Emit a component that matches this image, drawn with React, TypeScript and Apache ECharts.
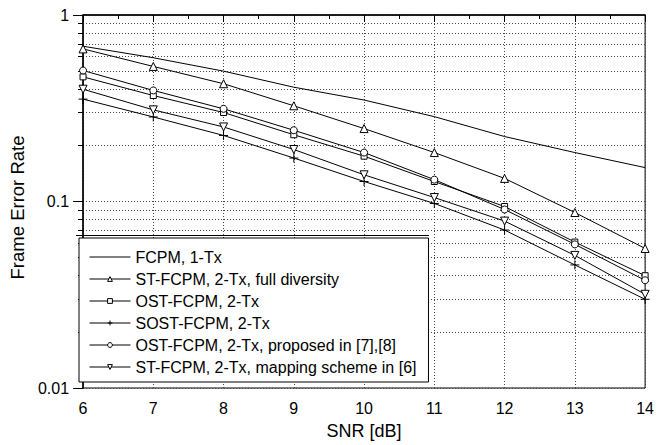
import React, { useEffect, useRef } from 'react';
import * as echarts from 'echarts';

const snr = [6, 7, 8, 9, 10, 11, 12, 13, 14];
const fcpm1Tx = [0.68, 0.59, 0.5, 0.41, 0.35, 0.285, 0.223, 0.183, 0.152];
const stFull = [0.658, 0.53, 0.428, 0.326, 0.246, 0.183, 0.133, 0.0873, 0.056];
const ost = [0.466, 0.37, 0.3, 0.228, 0.175, 0.128, 0.094, 0.0606, 0.04];
const sost = [0.354, 0.284, 0.226, 0.171, 0.128, 0.0976, 0.0703, 0.0457, 0.0299];
const ostProposed = [0.504, 0.394, 0.314, 0.241, 0.183, 0.131, 0.0906, 0.0589, 0.0378];
const stMapping = [0.4, 0.31, 0.251, 0.19, 0.139, 0.105, 0.0785, 0.0514, 0.0318];

const seriesNames = [
  'FCPM, 1-Tx',
  'ST-FCPM, 2-Tx, full diversity',
  'OST-FCPM, 2-Tx',
  'SOST-FCPM, 2-Tx',
  'OST-FCPM, 2-Tx, proposed in [7],[8]',
  'ST-FCPM, 2-Tx, mapping scheme in [6]',
];
const yMinorTicks = [
  0.02, 0.03, 0.04, 0.05, 0.06, 0.07, 0.08, 0.09,
  0.2, 0.3, 0.4, 0.5, 0.6, 0.7, 0.8, 0.9,
];

const FONT = '"Liberation Sans", Arial, Helvetica, sans-serif';
const PLUS = 'path://M0,5L10,5M5,0L5,10';

export default function App() {
  const ref = useRef<HTMLDivElement>(null);
  useEffect(() => {
    if (!ref.current) return;
    const chart = echarts.init(ref.current, undefined, { renderer: 'svg' });
    const datasets = [fcpm1Tx, stFull, ost, sost, ostProposed, stMapping];
    const symbols = ['none', 'triangle', 'rect', PLUS, 'circle', 'triangle'];
    const sizes = [0, 8, 6, 9, 7, 8];
    const rotates = [0, 0, 0, 0, 0, 180];
    const series = datasets.map((vals, i) => ({
      name: seriesNames[i],
      type: 'line',
      data: snr.map((x, j) => [x, vals[j]]),
      symbol: symbols[i],
      symbolSize: sizes[i],
      symbolRotate: rotates[i],
      showSymbol: i !== 0,
      lineStyle: { color: '#000', width: 1 },
      itemStyle: { color: '#fff', borderColor: '#000', borderWidth: 1 },
      z: 3,
    }));
    const dotted = { color: '#444', width: 1, type: [1, 2] };
    chart.setOption({
      animation: false,
      backgroundColor: '#fff',
      textStyle: { fontFamily: FONT },
      grid: {
        left: 76,
        right: 8,
        top: 15,
        bottom: 56,
        show: true,
        borderColor: '#000',
        borderWidth: 1,
        backgroundColor: 'transparent',
      },
      xAxis: {
        type: 'value',
        min: 6,
        max: 14,
        interval: 1,
        name: 'SNR [dB]',
        nameLocation: 'middle',
        nameGap: 34,
        nameTextStyle: { fontSize: 18, color: '#000', fontFamily: FONT },
        axisLine: { lineStyle: { color: '#000', width: 1.5 } },
        axisTick: { length: 7, lineStyle: { color: '#000', width: 1 } },
        minorTick: { show: true, splitNumber: 2, length: 4, lineStyle: { color: '#000', width: 1 } },
        axisLabel: { fontSize: 16, color: '#000', margin: 12, fontFamily: FONT },
        splitLine: { show: true, lineStyle: dotted },
      },
      yAxis: [
        {
          type: 'log',
          logBase: 10,
          min: 0.01,
          max: 1,
          position: 'left',
          name: 'Frame Error Rate',
          nameLocation: 'middle',
          nameGap: 46,
          nameTextStyle: { fontSize: 18.5, color: '#000', fontFamily: FONT, padding: [0, 12, 0, 0] },
          axisLine: { show: true, lineStyle: { color: '#000', width: 1.5 } },
          axisTick: { show: true, length: 10, lineStyle: { color: '#000', width: 1 } },
          axisLabel: { fontSize: 16, color: '#000', margin: 14, fontFamily: FONT },
          splitLine: { show: true, lineStyle: dotted },
        },
        {
          type: 'value',
          min: -2,
          max: 0,
          position: 'left',
          axisLine: { show: false },
          axisLabel: { show: false },
          axisTick: {
            show: true,
            length: 5,
            customValues: yMinorTicks.map((v) => Math.log10(v)),
            lineStyle: { color: '#000', width: 1 },
          },
          splitLine: { show: true, lineStyle: dotted },
        },
      ],
      legend: {
        orient: 'vertical',
        left: 79,
        top: 238,
        padding: [11, 12, 7, 10],
        itemWidth: 41,
        itemHeight: 6,
        itemGap: 6,
        backgroundColor: '#fff',
        borderColor: '#000',
        borderWidth: 1,
        textStyle: { fontSize: 16, color: '#000', fontFamily: FONT },
        data: seriesNames.map((n, i) =>
          i === 0
            ? { name: n, itemStyle: { opacity: 0 }, lineStyle: { color: '#000', width: 1 } }
            : {
                name: n,
                itemStyle: { color: '#fff', borderColor: '#000', borderWidth: 1 },
                lineStyle: { color: '#000', width: 1 },
              }
        ),
      },
      graphic: [
        {
          type: 'line',
          shape: { x1: 76, y1: 235.5, x2: 429, y2: 235.5 },
          style: { stroke: '#000', lineWidth: 1 },
          z: 100,
        },
      ],
      series,
    });
    return () => chart.dispose();
  }, []);
  return <div ref={ref} style={{ width: 657, height: 445, position: 'absolute', left: 0, top: 0 }} />;
}
